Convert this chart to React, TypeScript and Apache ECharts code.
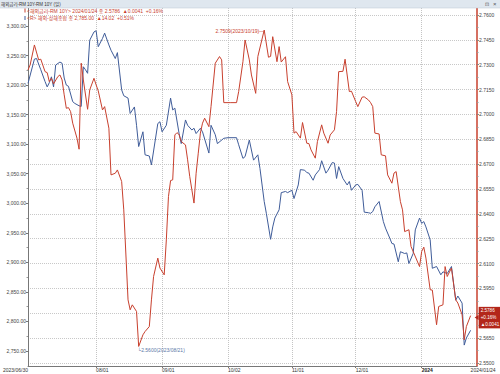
import { useEffect, useRef } from 'react';
import * as echarts from 'echarts';

// 해외-상해종합 (left axis, blue)
const blueDates = [
  '2023-06-30','2023-07-03','2023-07-04','2023-07-06','2023-07-08','2023-07-09','2023-07-10','2023-07-11','2023-07-12','2023-07-13',
  '2023-07-15','2023-07-16','2023-07-17','2023-07-18','2023-07-19','2023-07-21','2023-07-22','2023-07-24','2023-07-25','2023-07-26',
  '2023-07-27','2023-07-28','2023-07-29','2023-07-31','2023-08-01','2023-08-02','2023-08-04','2023-08-05','2023-08-07','2023-08-08',
  '2023-08-10','2023-08-11','2023-08-13','2023-08-14','2023-08-16','2023-08-17','2023-08-19','2023-08-20','2023-08-21','2023-08-23',
  '2023-08-24','2023-08-26','2023-08-27','2023-08-30','2023-08-31','2023-09-01','2023-09-03','2023-09-05','2023-09-06','2023-09-07',
  '2023-09-09','2023-09-10','2023-09-12','2023-09-13','2023-09-15','2023-09-16','2023-09-17','2023-09-19','2023-09-20','2023-09-23',
  '2023-09-24','2023-09-26','2023-09-27','2023-09-30','2023-10-02','2023-10-06','2023-10-07','2023-10-09','2023-10-10','2023-10-12',
  '2023-10-14','2023-10-16','2023-10-17','2023-10-19','2023-10-20','2023-10-22','2023-10-23','2023-10-24','2023-10-26','2023-10-27',
  '2023-10-29','2023-10-30','2023-11-01','2023-11-02','2023-11-04','2023-11-05','2023-11-07','2023-11-08','2023-11-09','2023-11-11',
  '2023-11-12','2023-11-14','2023-11-15','2023-11-17','2023-11-18','2023-11-20','2023-11-21','2023-11-22','2023-11-23','2023-11-25',
  '2023-11-27','2023-11-28','2023-11-29','2023-12-01','2023-12-02','2023-12-04','2023-12-05','2023-12-07','2023-12-08','2023-12-09',
  '2023-12-10','2023-12-12','2023-12-14','2023-12-15','2023-12-17','2023-12-18','2023-12-19','2023-12-21','2023-12-22','2023-12-24',
  '2023-12-25','2023-12-26','2023-12-28','2023-12-29','2023-12-31','2024-01-01','2024-01-02','2024-01-03','2024-01-05','2024-01-06',
  '2024-01-08','2024-01-10','2024-01-11','2024-01-13','2024-01-14','2024-01-15','2024-01-17','2024-01-18','2024-01-20','2024-01-21',
  '2024-01-22','2024-01-24',
];
const blueValues = [
  3203,3244,3245,3226,3206,3197,3204,3214,3197,3234,
  3239,3237,3212,3200,3198,3172,3169,3165,3164,3231,
  3226,3220,3276,3290,3292,3265,3279,3288,3268,3259,
  3245,3255,3192,3182,3178,3152,3163,3132,3096,3121,
  3082,3080,3065,3135,3138,3121,3132,3178,3158,3161,
  3118,3101,3141,3132,3124,3127,3118,3127,3121,3085,
  3132,3116,3101,3110,3111,3111,3099,3076,3079,3107,
  3073,3082,3059,3003,2983,2939,2960,2975,2989,3018,
  3020,3018,3022,3008,3031,3057,3056,3052,3051,3039,
  3048,3057,3072,3051,3056,3069,3068,3042,3062,3042,
  3031,3037,3022,3031,3032,3022,2985,2984,2983,2986,
  2994,3003,2969,2958,2941,2932,2931,2901,2918,2915,
  2916,2898,2915,2955,2975,2966,2969,2960,2938,2890,
  2893,2879,2884,2881,2887,2893,2836,2843,2831,2760,
  2772,2785,
];

// 해외금리-RM 10Y (right axis, red)
const redDates = [
  '2023-06-30','2023-07-01','2023-07-03','2023-07-05','2023-07-06','2023-07-08','2023-07-09','2023-07-10','2023-07-11','2023-07-12',
  '2023-07-14','2023-07-15','2023-07-16','2023-07-17','2023-07-18','2023-07-19','2023-07-20','2023-07-21','2023-07-23','2023-07-24',
  '2023-07-25','2023-07-26','2023-07-28','2023-07-29','2023-07-31','2023-08-01','2023-08-02','2023-08-04','2023-08-05','2023-08-07',
  '2023-08-08','2023-08-10','2023-08-11','2023-08-13','2023-08-14','2023-08-16','2023-08-17','2023-08-18','2023-08-20','2023-08-21',
  '2023-08-23','2023-08-24','2023-08-26','2023-08-27','2023-08-28','2023-08-30','2023-08-31','2023-09-02','2023-09-03','2023-09-04',
  '2023-09-05','2023-09-06','2023-09-07','2023-09-08','2023-09-09','2023-09-10','2023-09-12','2023-09-13','2023-09-14','2023-09-16',
  '2023-09-17','2023-09-18','2023-09-19','2023-09-20','2023-09-21','2023-09-23','2023-09-24','2023-09-26','2023-09-28','2023-09-29',
  '2023-09-30','2023-10-03','2023-10-06','2023-10-07','2023-10-09','2023-10-10','2023-10-12','2023-10-13','2023-10-15','2023-10-16',
  '2023-10-19','2023-10-21','2023-10-22','2023-10-23','2023-10-25','2023-10-26','2023-10-27','2023-10-29','2023-10-30','2023-11-01',
  '2023-11-02','2023-11-03','2023-11-05','2023-11-06','2023-11-08','2023-11-09','2023-11-10','2023-11-12','2023-11-13','2023-11-15',
  '2023-11-16','2023-11-18','2023-11-19','2023-11-21','2023-11-22','2023-11-23','2023-11-25','2023-11-26','2023-11-28','2023-11-29',
  '2023-12-01','2023-12-02','2023-12-04','2023-12-05','2023-12-07','2023-12-08','2023-12-09','2023-12-10','2023-12-12','2023-12-13',
  '2023-12-15','2023-12-16','2023-12-18','2023-12-19','2023-12-20','2023-12-22','2023-12-23','2023-12-24','2023-12-26','2023-12-27',
  '2023-12-31','2024-01-01','2024-01-02','2024-01-03','2024-01-05','2024-01-06','2024-01-08','2024-01-09','2024-01-11','2024-01-12',
  '2024-01-13','2024-01-15','2024-01-17','2024-01-18','2024-01-20','2024-01-21','2024-01-22','2024-01-24',
];
const redValues = [
  2.7268,2.7299,2.7419,2.7329,2.7333,2.7258,2.7252,2.7198,2.7218,2.7184,
  2.7228,2.7238,2.7208,2.7118,2.7037,2.7041,2.7017,2.6947,2.6857,2.6790,
  2.7309,2.7208,2.7031,2.7148,2.7218,2.7178,2.7142,2.7027,2.7047,2.6917,
  2.6635,2.6645,2.6665,2.6595,2.6424,2.5881,2.5821,2.5851,2.5811,2.5600,
  2.5670,2.5690,2.5720,2.5881,2.6022,2.6133,2.6073,2.6032,2.6243,2.6504,
  2.6601,2.6605,2.6876,2.6890,2.6878,2.6836,2.6816,2.6726,2.6625,2.6465,
  2.6645,2.6766,2.6887,2.6947,2.6977,2.6926,2.7047,2.7309,2.7349,2.7329,
  2.7071,2.7071,2.7071,2.7138,2.7318,2.7449,2.7329,2.7238,2.7127,2.7349,
  2.7509,2.7345,2.7350,2.7469,2.7318,2.7409,2.7316,2.7348,2.7198,2.7118,
  2.6887,2.6896,2.6857,2.6951,2.6826,2.6824,2.6786,2.6736,2.6836,2.6937,
  2.6887,2.6826,2.6876,2.6907,2.7017,2.7258,2.7260,2.7333,2.7138,2.7140,
  2.7077,2.7047,2.7104,2.7106,2.7087,2.7071,2.7047,2.6887,2.6882,2.6756,
  2.6750,2.6635,2.6585,2.6646,2.6655,2.6474,2.6424,2.6293,2.6304,2.6203,
  2.6082,2.6173,2.6199,2.6133,2.5942,2.5940,2.5731,2.5841,2.5851,2.6082,
  2.6022,2.6073,2.5881,2.5862,2.5791,2.5640,2.5720,2.5786,
];

// Tick labels
const leftTickValues = [2750, 2800, 2850, 2900, 2950, 3000, 3050, 3100, 3150, 3200, 3250, 3300];
const leftMinorTickValues = [2775, 2825, 2875, 2925, 2975, 3025, 3075, 3125, 3175, 3225, 3275];
const rightTickValues = [2.55, 2.565, 2.58, 2.595, 2.61, 2.625, 2.64, 2.655, 2.67, 2.685, 2.7, 2.715, 2.73, 2.745, 2.76];
// 2.5800 is hidden behind the last-value box in the reference
const rightLabelValues = [2.55, 2.565, 2.595, 2.61, 2.625, 2.64, 2.655, 2.67, 2.685, 2.7, 2.715, 2.73, 2.745, 2.76];
const rightMinorTickValues = [2.5575, 2.5725, 2.5875, 2.6025, 2.6175, 2.6325, 2.6475, 2.6625, 2.6775, 2.6925, 2.7075, 2.7225, 2.7375, 2.7525];
const xLabelDates = ['2023-06-30', '2023-08-01', '2023-09-01', '2023-10-02', '2023-11-01', '2023-12-01', '2024-01-01', '2024-01-24'];
const xLabelTexts = ['2023/06/30', '08/01', '09/01', '10/02', '11/01', '12/01', '{b|2024}', '2024/01/24'];
const xGridDates = ['2023-08-01', '2023-09-01', '2023-10-02', '2023-11-01', '2023-12-01', '2024-01-01'];
const xMinDate = '2023-06-30';
const xMaxDate = '2024-01-27';

const headerTitle = '해외금리-RM';
const headerSub = '10Y-RM 10Y (일)';
const legendRed = '<해외금리-RM 10Y> 2024/01/24 종 2.5786  ▲0.0041  +0.16%';
const legendBlue = '<R> 해외-상해종합 종 2,785.00  ▲14.02  +0.51%';
const endBoxLines = ['2.5786', '+0.16%', '▲0.0041'];

const FONT = "'Liberation Sans', Arial, 'Noto Sans CJK KR', sans-serif";
const RED = '#c8402e';
const BLUE = '#3f5c99';
const BOX_RED = '#b3261a';

function ts(s: string) {
  const [y, m, d] = s.split('-').map(Number);
  return new Date(y, m - 1, d).getTime();
}

export default function App() {
  const ref = useRef<HTMLDivElement>(null);

  useEffect(() => {
    if (!ref.current) return;
    const chart = echarts.init(ref.current, null, { renderer: 'svg' });

    const maxIdx = redValues.indexOf(Math.max(...redValues));
    const minIdx = redValues.indexOf(Math.min(...redValues));
    const lastIdx = redValues.length - 1;

    const xLabelTs = xLabelDates.map(ts);
    const xFormatter = (val: number) => {
      let best = -1;
      let bestDiff = Infinity;
      xLabelTs.forEach((t, i) => {
        const diff = Math.abs(t - val);
        if (diff < bestDiff) { bestDiff = diff; best = i; }
      });
      return bestDiff < 3600 * 1000 * 12 ? xLabelTexts[best] : '';
    };

    const option: any = {
      animation: false,
      backgroundColor: '#ffffff',
      textStyle: { fontFamily: FONT },
      grid: { left: 22, right: 23, top: 8, bottom: 8, containLabel: false },
      xAxis: {
        type: 'value',
        min: ts(xMinDate),
        max: ts(xMaxDate),
        axisLine: { show: true, lineStyle: { color: '#777', width: 1 } },
        axisTick: { show: true, customValues: xGridDates.map(ts), length: 2, lineStyle: { color: '#777' } },
        axisLabel: {
          customValues: xLabelTs,
          formatter: xFormatter,
          fontSize: 5,
          color: '#333',
          margin: 1.5,
          align: 'left',
          alignMinLabel: 'right',
          alignMaxLabel: 'left',
          showMinLabel: true,
          showMaxLabel: true,
          hideOverlap: false,
          fontFamily: FONT,
          rich: { b: { fontWeight: 'bold', fontSize: 5, color: '#222', fontFamily: FONT } },
        },
        splitLine: { show: true, lineStyle: { type: 'dotted', color: '#c4c4c4', width: 1 } },
      },
      yAxis: [
        {
          type: 'value',
          position: 'left',
          min: 2724.6,
          max: 3330.5,
          axisLine: { show: true, lineStyle: { color: '#777', width: 1 } },
          axisTick: { show: true, customValues: leftTickValues, length: 2, lineStyle: { color: '#777' } },
          axisLabel: {
            customValues: leftTickValues,
            formatter: (v: number) => v.toLocaleString('en-US', { minimumFractionDigits: 2, maximumFractionDigits: 2 }),
            fontSize: 5,
            color: '#444',
            margin: 2,
            fontFamily: FONT,
          },
          splitLine: { show: false },
        },
        {
          type: 'value',
          position: 'right',
          min: 2.5482,
          max: 2.7642,
          axisLine: { show: true, lineStyle: { color: RED, width: 1.5 } },
          axisTick: { show: true, customValues: rightTickValues, length: 2, lineStyle: { color: '#888' } },
          axisLabel: {
            customValues: rightLabelValues,
            formatter: (v: number) => v.toFixed(4),
            fontSize: 5,
            color: '#444',
            margin: 2,
            fontFamily: FONT,
          },
          splitLine: { show: true, lineStyle: { type: 'dotted', color: '#c8c8c8', width: 1 } },
        },
        {
          type: 'value',
          position: 'left',
          min: 2724.6,
          max: 3330.5,
          axisLine: { show: false },
          axisTick: { show: true, customValues: leftMinorTickValues, length: 1.5, lineStyle: { color: '#999' } },
          axisLabel: { show: false },
          splitLine: { show: false },
        },
        {
          type: 'value',
          position: 'right',
          min: 2.5482,
          max: 2.7642,
          axisLine: { show: false },
          axisTick: { show: true, customValues: rightMinorTickValues, length: 1.5, lineStyle: { color: '#999' } },
          axisLabel: { show: false },
          splitLine: { show: false },
        },
      ],
      series: [
        {
          type: 'line',
          name: '해외-상해종합',
          yAxisIndex: 0,
          data: blueDates.map((d, i) => [ts(d), blueValues[i]]),
          symbol: 'none',
          lineStyle: { color: BLUE, width: 1 },
          itemStyle: { color: BLUE },
          z: 2,
        },
        {
          type: 'line',
          name: '해외금리-RM 10Y',
          yAxisIndex: 1,
          data: redDates.map((d, i) => [ts(d), redValues[i]]),
          symbol: 'none',
          lineStyle: { color: RED, width: 1 },
          itemStyle: { color: RED },
          z: 3,
          markPoint: {
            silent: true,
            symbol: 'circle',
            symbolSize: 0.1,
            itemStyle: { color: 'rgba(0,0,0,0)' },
            label: { show: false },
            data: [
              {
                coord: [ts(redDates[maxIdx]), redValues[maxIdx]],
                label: {
                  show: true,
                  position: 'left',
                  distance: 0,
                  offset: [0, 1],
                  formatter: `${redValues[maxIdx].toFixed(4)}(${redDates[maxIdx].replace(/-/g, '/')})—`,
                  color: RED,
                  fontSize: 5,
                  fontFamily: FONT,
                },
              },
              {
                coord: [ts(redDates[minIdx]), redValues[minIdx]],
                label: {
                  show: true,
                  position: [-1, 1.5],
                  formatter: `└${redValues[minIdx].toFixed(4)}(${redDates[minIdx].replace(/-/g, '/')})`,
                  color: '#5d79a8',
                  fontSize: 5,
                  fontFamily: FONT,
                },
              },
              {
                coord: [ts(redDates[lastIdx]), redValues[lastIdx]],
                label: {
                  show: true,
                  position: 'right',
                  distance: 8,
                  offset: [0, 2],
                  formatter: endBoxLines.map((s) => `{a|${s}}`).join('\n'),
                  rich: { a: { color: '#ffffff', fontSize: 4.6, lineHeight: 7, fontFamily: FONT } },
                  backgroundColor: BOX_RED,
                  padding: [0.5, 2, 0, 2],
                },
              },
              {
                coord: [ts(redDates[lastIdx]), redValues[lastIdx]],
                symbol: 'triangle',
                symbolSize: [5, 4],
                symbolRotate: 90,
                symbolOffset: [6, 2],
                itemStyle: { color: BOX_RED },
                label: { show: false },
              },
            ],
          },
        },
      ],
      graphic: [
        { type: 'rect', shape: { x: 0, y: 0, width: 500, height: 8 }, style: { fill: '#dfe7ef' }, z: 10 },
        { type: 'line', shape: { x1: 0, y1: 8, x2: 500, y2: 8 }, style: { stroke: '#b8c4d0', lineWidth: 0.5 }, z: 10 },
        { type: 'text', x: 1, y: 4, style: { text: headerTitle, fontSize: 4.5, fill: '#333', verticalAlign: 'middle', fontFamily: FONT }, z: 11 },
        { type: 'text', x: 27, y: 4, style: { text: headerSub, fontSize: 4.5, fill: '#333', verticalAlign: 'middle', fontFamily: FONT }, z: 11 },
        { type: 'text', x: 485, y: 4, style: { text: '⊡', fontSize: 5, fill: '#555', verticalAlign: 'middle', fontFamily: "'DejaVu Sans', sans-serif" }, z: 11 },
        { type: 'text', x: 493, y: 4, style: { text: '×', fontSize: 6, fill: '#555', verticalAlign: 'middle', fontFamily: FONT }, z: 11 },
        { type: 'rect', shape: { x: 24.5, y: 8.5, width: 1, height: 4 }, style: { fill: RED }, z: 11 },
        { type: 'text', x: 27, y: 10.5, style: { text: legendRed, fontSize: 5, fill: RED, verticalAlign: 'middle', fontFamily: FONT }, z: 11 },
        { type: 'rect', shape: { x: 24.5, y: 16, width: 1, height: 4 }, style: { fill: BLUE }, z: 11 },
        { type: 'text', x: 27, y: 18, style: { text: legendBlue, fontSize: 5, fill: RED, verticalAlign: 'middle', fontFamily: FONT }, z: 11 },
      ],
    };

    chart.setOption(option);
    return () => chart.dispose();
  }, []);

  return <div ref={ref} style={{ position: 'absolute', left: 0, top: 0, width: 500, height: 374 }} />;
}
